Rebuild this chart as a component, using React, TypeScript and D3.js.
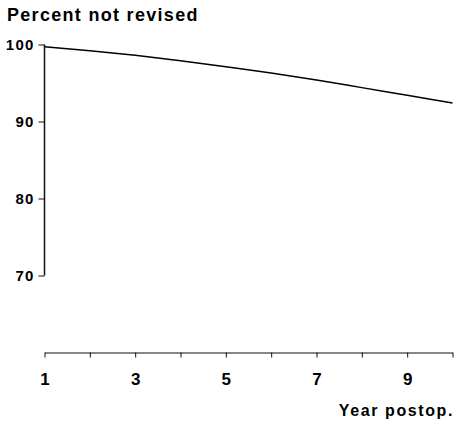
import React, { useEffect, useRef } from "react"
import * as d3 from "d3"

// data
const years = [1, 2, 3, 4, 5, 6, 7, 8, 9, 10]
const percentNotRevised = [99.7, 99.2, 98.6, 97.9, 97.1, 96.3, 95.4, 94.4, 93.4, 92.4]
const yTicks = [70, 80, 90, 100]
const xTickLabels = [1, 3, 5, 7, 9]

const W = 456
const H = 424
const FONT = "'Liberation Sans', Arial, Helvetica, sans-serif"

const App = () => {
	const ref = useRef<SVGSVGElement>(null)

	useEffect(() => {
		const svg = d3.select(ref.current)
		svg.selectAll("*").remove()

		const x = d3.scaleLinear().domain([1, 10]).range([44.5, 452.5])
		const y = d3.scaleLinear().domain([60, 100]).range([352.5, 44.5])

		// title
		svg
			.append("text")
			.attr("x", 7)
			.attr("y", 21)
			.style("font-family", FONT)
			.style("font-weight", "bold")
			.style("font-size", "18px")
			.style("letter-spacing", "1.3px")
			.text("Percent not revised")

		// y axis (only 70-100)
		const yAxis = d3
			.axisLeft(y)
			.tickValues(yTicks)
			.tickSize(6)
			.tickPadding(4)
			.tickSizeOuter(0)
		const gy = svg
			.append("g")
			.attr("transform", `translate(${x(1)},0)`)
			.call(yAxis)
		gy.select(".domain").remove()
		gy.selectAll("line").attr("stroke", "#111").attr("stroke-width", 1)
		gy
			.selectAll("text")
			.attr("fill", "#000")
			.style("font-family", FONT)
			.style("font-weight", "bold")
			.style("font-size", "15px")
			.style("letter-spacing", "1.2px")
		svg
			.append("line")
			.attr("x1", x(1))
			.attr("x2", x(1))
			.attr("y1", y(100))
			.attr("y2", y(70))
			.attr("stroke", "#111")
			.attr("stroke-width", 1.5)

		// x axis
		const xAxis = d3
			.axisBottom(x)
			.tickValues(years)
			.tickSize(5)
			.tickSizeOuter(0)
			.tickFormat(d => (xTickLabels.includes(+d) ? String(d) : ""))
			.tickPadding(15)
		const gx = svg
			.append("g")
			.attr("transform", `translate(0,${y(60)})`)
			.call(xAxis)
		gx.select(".domain").attr("stroke", "#111").attr("stroke-width", 1.2)
		gx.selectAll("line").attr("stroke", "#111").attr("stroke-width", 1)
		gx
			.selectAll("text")
			.attr("fill", "#000")
			.style("font-family", FONT)
			.style("font-weight", "bold")
			.style("font-size", "17px")

		svg
			.append("text")
			.attr("x", 454)
			.attr("y", 416)
			.attr("text-anchor", "end")
			.style("font-family", FONT)
			.style("font-weight", "bold")
			.style("font-size", "16px")
			.style("letter-spacing", "1.6px")
			.text("Year postop.")

		// survival curve
		const line = d3
			.line<number>()
			.x((_, i) => x(years[i]))
			.y(d => y(d))
			.curve(d3.curveMonotoneX)
		svg
			.append("path")
			.datum(percentNotRevised)
			.attr("d", line)
			.attr("fill", "none")
			.attr("stroke", "#000")
			.attr("stroke-width", 1.5)
	}, [])

	return (
		<svg
			ref={ref}
			width={W}
			height={H}
			style={{ position: "absolute", left: 0, top: 0, background: "#fff" }}
		/>
	)
}

export default App
